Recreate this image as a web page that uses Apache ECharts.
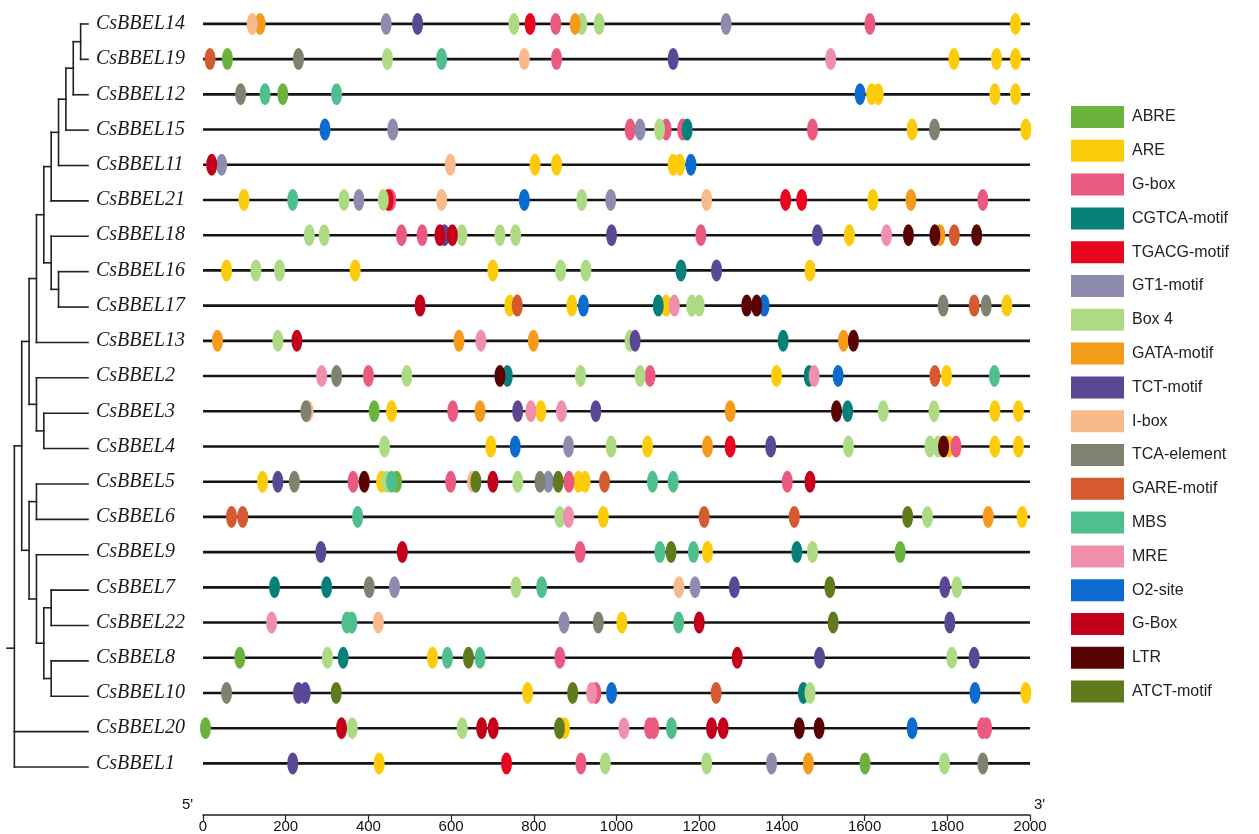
<!DOCTYPE html>
<html><head><meta charset="utf-8">
<script src="https://cdn.jsdelivr.net/npm/echarts@6/dist/echarts.min.js"></script>
<style>html,body{margin:0;padding:0;background:#fff}#c{width:1259px;height:834px}</style>
</head><body><div id="c"></div>
<script>
// ---------- DATA ----------
const genes = ['CsBBEL14','CsBBEL19','CsBBEL12','CsBBEL15','CsBBEL11','CsBBEL21','CsBBEL18','CsBBEL16','CsBBEL17','CsBBEL13','CsBBEL2','CsBBEL3','CsBBEL4','CsBBEL5','CsBBEL6','CsBBEL9','CsBBEL7','CsBBEL22','CsBBEL8','CsBBEL10','CsBBEL20','CsBBEL1'];
const geneLengths = [2000,2000,2000,2000,2000,2000,2000,2000,2000,2000,2000,2000,2000,2000,2000,2000,2000,2000,2000,2000,2000,2000];
const xTicks = [0,200,400,600,800,1000,1200,1400,1600,1800,2000];
const motifNames = ['ABRE','ARE','G-box','CGTCA-motif','TGACG-motif','GT1-motif','Box 4','GATA-motif','TCT-motif','I-box','TCA-element','GARE-motif','MBS','MRE','O2-site','G-Box','LTR','ATCT-motif'];

// motif positions per gene: [position (bp), motif]
const CsBBEL14 = [[119,'I-box'],[138,'GATA-motif'],[443,'GT1-motif'],[519,'TCT-motif'],[752,'Box 4'],[791,'TGACG-motif'],[853,'G-box'],[900,'GATA-motif'],[916,'Box 4'],[958,'Box 4'],[1265,'GT1-motif'],[1613,'G-box'],[1965,'ARE']];
const CsBBEL19 = [[17,'GARE-motif'],[59,'ABRE'],[231,'TCA-element'],[446,'Box 4'],[577,'MBS'],[777,'I-box'],[855,'G-box'],[1137,'TCT-motif'],[1518,'MRE'],[1816,'ARE'],[1919,'ARE'],[1965,'ARE']];
const CsBBEL12 = [[91,'TCA-element'],[150,'MBS'],[193,'ABRE'],[323,'MBS'],[1589,'O2-site'],[1617,'ARE'],[1633,'ARE'],[1915,'ARE'],[1965,'ARE']];
const CsBBEL15 = [[295,'O2-site'],[459,'GT1-motif'],[1033,'G-box'],[1057,'GT1-motif'],[1104,'Box 4'],[1120,'G-box'],[1160,'G-box'],[1171,'CGTCA-motif'],[1474,'G-box'],[1715,'ARE'],[1769,'TCA-element'],[1990,'ARE']];
const CsBBEL11 = [[21,'G-Box'],[45,'GT1-motif'],[598,'I-box'],[803,'ARE'],[855,'ARE'],[1137,'ARE'],[1153,'ARE'],[1180,'O2-site']];
const CsBBEL21 = [[99,'ARE'],[217,'MBS'],[341,'Box 4'],[377,'GT1-motif'],[436,'Box 4'],[448,'TGACG-motif'],[454,'G-box'],[577,'I-box'],[777,'O2-site'],[916,'Box 4'],[986,'GT1-motif'],[1218,'I-box'],[1409,'TGACG-motif'],[1448,'TGACG-motif'],[1620,'ARE'],[1712,'GATA-motif'],[1886,'G-box']];
const CsBBEL18 = [[257,'Box 4'],[293,'Box 4'],[480,'G-box'],[530,'G-box'],[573,'G-Box'],[584,'TCT-motif'],[603,'G-Box'],[626,'Box 4'],[718,'Box 4'],[756,'Box 4'],[988,'TCT-motif'],[1204,'G-box'],[1486,'TCT-motif'],[1563,'ARE'],[1653,'MRE'],[1706,'LTR'],[1770,'LTR'],[1782,'GATA-motif'],[1817,'GARE-motif'],[1871,'LTR']];
const CsBBEL16 = [[57,'ARE'],[128,'Box 4'],[185,'Box 4'],[368,'ARE'],[701,'ARE'],[865,'Box 4'],[926,'Box 4'],[1156,'CGTCA-motif'],[1242,'TCT-motif'],[1468,'ARE']];
const CsBBEL17 = [[525,'G-Box'],[742,'ARE'],[760,'GARE-motif'],[892,'ARE'],[920,'O2-site'],[1101,'CGTCA-motif'],[1120,'ARE'],[1140,'MRE'],[1182,'Box 4'],[1200,'Box 4'],[1315,'LTR'],[1339,'LTR'],[1357,'O2-site'],[1790,'TCA-element'],[1865,'GARE-motif'],[1894,'TCA-element'],[1944,'ARE']];
const CsBBEL13 = [[35,'GATA-motif'],[181,'Box 4'],[227,'G-Box'],[619,'GATA-motif'],[672,'MRE'],[799,'GATA-motif'],[1033,'Box 4'],[1045,'TCT-motif'],[1403,'CGTCA-motif'],[1549,'GATA-motif'],[1573,'LTR']];
const CsBBEL2 = [[287,'MRE'],[323,'TCA-element'],[400,'G-box'],[493,'Box 4'],[718,'LTR'],[736,'CGTCA-motif'],[913,'Box 4'],[1057,'Box 4'],[1081,'G-box'],[1387,'ARE'],[1466,'CGTCA-motif'],[1478,'MRE'],[1536,'O2-site'],[1770,'GARE-motif'],[1798,'ARE'],[1914,'MBS']];
const CsBBEL3 = [[249,'TCA-element'],[254,'I-box'],[414,'ABRE'],[456,'ARE'],[604,'G-box'],[670,'GATA-motif'],[761,'TCT-motif'],[793,'MRE'],[817,'ARE'],[867,'MRE'],[950,'TCT-motif'],[1275,'GATA-motif'],[1532,'LTR'],[1559,'CGTCA-motif'],[1645,'Box 4'],[1768,'Box 4'],[1915,'ARE'],[1972,'ARE']];
const CsBBEL4 = [[439,'Box 4'],[696,'ARE'],[755,'O2-site'],[884,'GT1-motif'],[987,'Box 4'],[1075,'ARE'],[1220,'GATA-motif'],[1275,'TGACG-motif'],[1373,'TCT-motif'],[1561,'Box 4'],[1758,'Box 4'],[1778,'Box 4'],[1791,'LTR'],[1803,'ARE'],[1821,'G-box'],[1915,'ARE'],[1972,'ARE']];
const CsBBEL5 = [[144,'ARE'],[181,'TCT-motif'],[221,'TCA-element'],[363,'G-box'],[390,'LTR'],[432,'ARE'],[444,'Box 4'],[456,'MBS'],[468,'ABRE'],[599,'G-box'],[652,'I-box'],[660,'ATCT-motif'],[701,'G-Box'],[761,'Box 4'],[815,'TCA-element'],[835,'GT1-motif'],[859,'ATCT-motif'],[885,'G-box'],[908,'ARE'],[924,'ARE'],[971,'GARE-motif'],[1087,'MBS'],[1137,'MBS'],[1413,'G-box'],[1468,'G-Box']];
const CsBBEL6 = [[69,'GARE-motif'],[96,'GARE-motif'],[374,'MBS'],[863,'Box 4'],[884,'MRE'],[968,'ARE'],[1212,'GARE-motif'],[1430,'GARE-motif'],[1704,'ATCT-motif'],[1752,'Box 4'],[1899,'GATA-motif'],[1981,'ARE']];
const CsBBEL9 = [[285,'TCT-motif'],[482,'G-Box'],[912,'G-box'],[1105,'MBS'],[1132,'ATCT-motif'],[1186,'MBS'],[1220,'ARE'],[1436,'CGTCA-motif'],[1474,'Box 4'],[1686,'ABRE']];
const CsBBEL7 = [[173,'CGTCA-motif'],[299,'CGTCA-motif'],[402,'TCA-element'],[463,'GT1-motif'],[757,'Box 4'],[819,'MBS'],[1151,'I-box'],[1190,'GT1-motif'],[1285,'TCT-motif'],[1516,'ATCT-motif'],[1794,'TCT-motif'],[1823,'Box 4']];
const CsBBEL22 = [[166,'MRE'],[348,'MBS'],[360,'MBS'],[424,'I-box'],[873,'GT1-motif'],[956,'TCA-element'],[1013,'ARE'],[1150,'MBS'],[1200,'G-Box'],[1524,'ATCT-motif'],[1806,'TCT-motif']];
const CsBBEL8 = [[89,'ABRE'],[301,'Box 4'],[339,'CGTCA-motif'],[555,'ARE'],[591,'MBS'],[642,'ATCT-motif'],[670,'MBS'],[863,'G-box'],[1292,'G-Box'],[1491,'TCT-motif'],[1811,'Box 4'],[1865,'TCT-motif']];
const CsBBEL10 = [[57,'TCA-element'],[231,'TCT-motif'],[247,'TCT-motif'],[322,'ATCT-motif'],[785,'ARE'],[894,'ATCT-motif'],[940,'MRE'],[950,'G-box'],[988,'O2-site'],[1241,'GARE-motif'],[1452,'CGTCA-motif'],[1468,'Box 4'],[1867,'O2-site'],[1990,'ARE']];
const CsBBEL20 = [[6,'ABRE'],[335,'G-Box'],[361,'Box 4'],[627,'Box 4'],[674,'G-Box'],[702,'G-Box'],[862,'ATCT-motif'],[874,'ARE'],[1018,'MRE'],[1080,'G-box'],[1090,'G-box'],[1133,'MBS'],[1230,'G-Box'],[1258,'G-Box'],[1442,'LTR'],[1490,'LTR'],[1715,'O2-site'],[1885,'G-box'],[1895,'G-box']];
const CsBBEL1 = [[217,'TCT-motif'],[426,'ARE'],[734,'TGACG-motif'],[914,'G-box'],[973,'Box 4'],[1218,'Box 4'],[1375,'GT1-motif'],[1464,'GATA-motif'],[1601,'ABRE'],[1793,'Box 4'],[1886,'TCA-element']];

const geneMotifs = [CsBBEL14,CsBBEL19,CsBBEL12,CsBBEL15,CsBBEL11,CsBBEL21,CsBBEL18,CsBBEL16,CsBBEL17,CsBBEL13,CsBBEL2,CsBBEL3,CsBBEL4,CsBBEL5,CsBBEL6,CsBBEL9,CsBBEL7,CsBBEL22,CsBBEL8,CsBBEL10,CsBBEL20,CsBBEL1];

// phylogenetic tree: [node depth, ...children]; leaves are gene names (leaf depth = 10)
const tree = [0,
  [1,
    [2,
      [3,
        [4,
          [5,[6,[7,[8,[9,'CsBBEL14','CsBBEL19'],'CsBBEL12'],'CsBBEL15'],'CsBBEL11'],'CsBBEL21'],
          [5,'CsBBEL18',[6,'CsBBEL16','CsBBEL17']]
        ],
        'CsBBEL13'],
      [3,'CsBBEL2',[4,'CsBBEL3','CsBBEL4']]
    ],
    [2,
      [3,'CsBBEL5','CsBBEL6'],
      [3,'CsBBEL9',[4,[5,'CsBBEL7','CsBBEL22'],[5,'CsBBEL8','CsBBEL10']]]
    ]
  ],
  'CsBBEL20','CsBBEL1'];
const leafDepth = 10;

// ---------- STYLE ----------
const motifColors = ['#6cb33e','#fccb0a','#ea5a80','#07807a','#e8061f','#8e8cae','#addb83','#f59b1c','#5a4895','#f8b98c','#7e836f','#d65a2f','#4fbf8e','#f08fab','#0b6bcf','#c3001a','#5a0303','#5f7b1e'];

// ---------- BUILD ----------
const scatterSeries = motifNames.map((m, k) => {
  const data = [];
  geneMotifs.forEach((arr, gi) => arr.forEach(([pos, mm]) => { if (mm === m) data.push([pos, genes[gi]]); }));
  return {
    name: m, type: 'scatter', xAxisIndex: 0, yAxisIndex: 0, z: 3,
    symbol: 'circle', symbolSize: [11, 22],
    itemStyle: { color: motifColors[k], opacity: 1 },
    emphasis: { disabled: true }, silent: true,
    data
  };
});

const lineSeries = {
  type: 'custom', xAxisIndex: 0, yAxisIndex: 0, z: 1, silent: true,
  encode: { x: [0, 1], y: 2 },
  data: genes.map((g, i) => [0, geneLengths[i], i]),
  renderItem: (params, api) => {
    const a = api.coord([api.value(0), api.value(2)]);
    const b = api.coord([api.value(1), api.value(2)]);
    return { type: 'line', shape: { x1: a[0], y1: a[1], x2: b[0], y2: b[1] },
      style: { stroke: '#141414', lineWidth: 2.6 } };
  }
};

function layoutTree(node, segs) {
  if (typeof node === 'string') return { y: genes.indexOf(node), d: leafDepth };
  const depth = node[0];
  const kids = node.slice(1).map(c => layoutTree(c, segs));
  const ys = kids.map(k => k.y);
  const y = ys.reduce((s, v) => s + v, 0) / ys.length;
  segs.push([[depth, Math.min(...ys)], [depth, Math.max(...ys)]]);
  kids.forEach(k => segs.push([[depth, k.y], [k.d, k.y]]));
  return { y, d: depth };
}

const treeSeries = {
  type: 'custom', xAxisIndex: 1, yAxisIndex: 1, z: 1, silent: true,
  encode: { x: 0, y: 1 },
  data: [[0, 0]],
  renderItem: (params, api) => {
    const segs = [];
    const root = layoutTree(tree, segs);
    segs.push([[-1, root.y], [0, root.y]]);
    return { type: 'group', children: segs.map(([p, q]) => {
      const a = api.coord(p), b = api.coord(q);
      return { type: 'line', shape: { x1: a[0], y1: a[1], x2: b[0], y2: b[1] },
        style: { stroke: '#222', lineWidth: 1.6, lineCap: 'square' } };
    }) };
  }
};

const chart = echarts.init(document.getElementById('c'), null, { renderer: 'canvas' });
chart.setOption({
  animation: false,
  backgroundColor: '#fff',
  grid: [
    { left: 203, width: 827, top: 6.3, height: 778.4 },
    { left: 7, width: 81, top: 6.3, height: 778.4 }
  ],
  xAxis: [
    { type: 'value', gridIndex: 0, min: xTicks[0], max: xTicks[xTicks.length - 1], interval: xTicks[1] - xTicks[0],
      position: 'bottom', offset: 34,
      axisLine: { show: true, lineStyle: { color: '#222', width: 1.5 } },
      axisTick: { show: true, length: 6, lineStyle: { color: '#222', width: 1.2 } },
      axisLabel: { fontSize: 15, color: '#111', margin: 4, fontFamily: 'Liberation Sans', formatter: v => String(v) },
      splitLine: { show: false } },
    { type: 'value', gridIndex: 1, min: -1, max: leafDepth, show: false }
  ],
  yAxis: [
    { type: 'category', gridIndex: 0, data: genes, inverse: true,
      axisLine: { show: false }, axisTick: { show: false }, splitLine: { show: false },
      axisLabel: { align: 'left', margin: 107, fontFamily: 'Liberation Serif', fontStyle: 'italic', fontSize: 20, color: '#1a1a1a' } },
    { type: 'value', gridIndex: 1, min: -0.5, max: genes.length - 0.5, inverse: true, show: false }
  ],
  legend: {
    data: motifNames, orient: 'vertical', left: 1071, top: 106, padding: 0,
    itemWidth: 53, itemHeight: 22, itemGap: 11.8, icon: 'rect', selectedMode: false,
    textStyle: { fontSize: 16, color: '#222', fontFamily: 'Liberation Sans', padding: [0, 0, 0, 3] }
  },
  graphic: [
    { type: 'text', left: 182, top: 797, style: { text: "5'", fontSize: 15, fill: '#111', fontFamily: 'Liberation Sans' } },
    { type: 'text', left: 1034, top: 797, style: { text: "3'", fontSize: 15, fill: '#111', fontFamily: 'Liberation Sans' } }
  ],
  series: [lineSeries, treeSeries, ...scatterSeries]
});
</script>
</body></html>
